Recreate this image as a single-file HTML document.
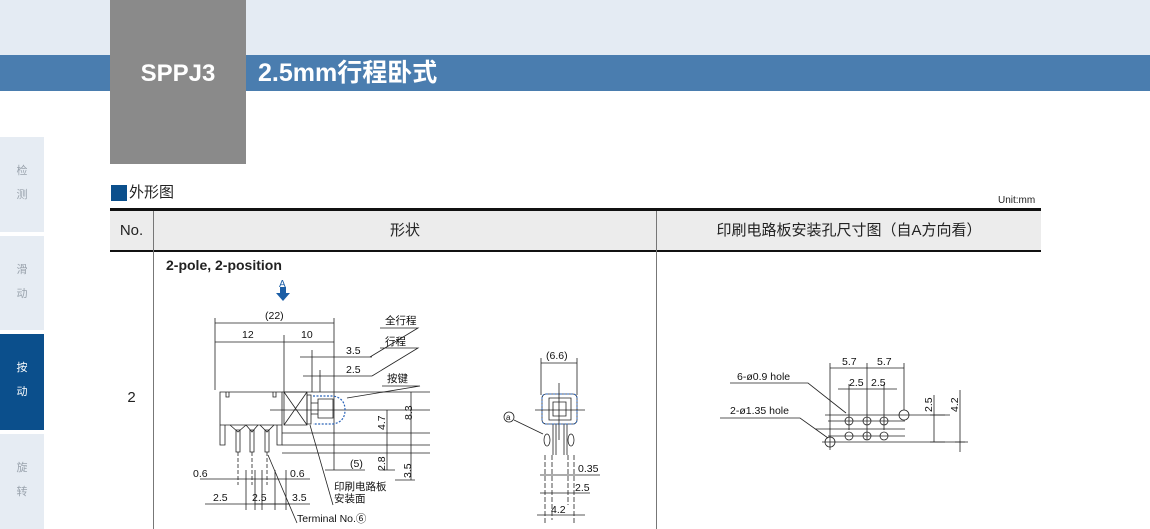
<!DOCTYPE html>
<html><head><meta charset="utf-8"><style>
*{margin:0;padding:0;box-sizing:border-box}
body{width:1150px;height:529px;position:relative;overflow:hidden;background:#fff;font-family:"Liberation Sans","Noto Sans CJK SC",sans-serif;color:#222}
.a{position:absolute}
.tab{position:absolute;left:0;width:44px;background:#e6ecf3;color:#9aa3ad;font-size:11px;text-align:center;line-height:24px;padding-top:22px}
</style></head><body>
<div class="a" style="left:0;top:0;width:1150px;height:55px;background:#e4ebf3"></div>
<div class="a" style="left:0;top:55px;width:1150px;height:36px;background:#4a7daf"></div>
<div class="a" style="left:110px;top:0;width:136px;height:164px;background:#8a8a8a"></div>
<div class="a" style="left:110px;top:58px;width:136px;text-align:center;color:#fff;font-weight:bold;font-size:24px;line-height:32px">SPPJ3</div>
<div class="a" style="left:258px;top:57px;color:#fff;font-size:25px;font-weight:bold;line-height:32px">2.5mm行程卧式</div>
<div class="tab" style="top:137px;height:95px">检<br>测</div>
<div class="tab" style="top:236px;height:94px">滑<br>动</div>
<div class="tab" style="top:334px;height:96px;background:#0b4f8c;color:#fff">按<br>动</div>
<div class="tab" style="top:434px;height:95px">旋<br>转</div>
<div class="a" style="left:111px;top:185px;width:16px;height:16px;background:#0b4f8c"></div>
<div class="a" style="left:129px;top:183px;font-size:15px;line-height:20px">外形图</div>
<div class="a" style="left:998px;top:195px;font-size:10px">Unit:mm</div>
<div class="a" style="left:110px;top:208px;width:931px;height:3px;background:#111"></div>
<div class="a" style="left:110px;top:211px;width:931px;height:39px;background:#ececec"></div>
<div class="a" style="left:110px;top:250px;width:931px;height:2px;background:#111"></div>
<div class="a" style="left:153px;top:211px;width:1px;height:318px;background:#777"></div>
<div class="a" style="left:656px;top:211px;width:1px;height:318px;background:#777"></div>
<div class="a" style="left:110px;top:221px;width:43px;text-align:center;font-size:15px;line-height:20px">No.</div>
<div class="a" style="left:154px;top:221px;width:502px;text-align:center;font-size:15px;line-height:20px">形状</div>
<div class="a" style="left:657px;top:221px;width:384px;text-align:center;font-size:15px;line-height:20px">印刷电路板安装孔尺寸图（自A方向看）</div>
<div class="a" style="left:110px;top:389px;width:43px;text-align:center;font-size:15px">2</div>
<div class="a" style="left:166px;top:257px;font-size:14px;font-weight:bold">2-pole, 2-position</div>
<svg class="a" style="left:0;top:0" width="1150" height="529" font-family="Liberation Sans,Noto Sans CJK SC,sans-serif" font-size="10.5" fill="#111">
<g stroke="#222" stroke-width="0.8" fill="none">
<path d="M215 318V390M284 335V392M334 318V470M215 323H334M215 342H334"/>
<path d="M300 357H372M303 376H372M312 350V392M320 370V392"/>
<path d="M380 328H418L370 357M380 348H418L372 376M382 386H420L347 398"/>
<path d="M220 392H282V425H220ZM220 392V445H225V425M282 392V445H277V425M226 392V397H229V392M273 392V397H276V392"/>
<path d="M230 425L238 432L246 425M246 425L252 432L258 425M260 425L267 432L274 425"/>
<path d="M236 430H240V452H236ZM250 430H254V452H250ZM265 430H269V452H265Z"/>
<path d="M238 452V485M252 452V485M267 452V485" stroke-dasharray="4 2"/>
<path d="M284 392H307V425H284ZM284 392L307 425M307 392L284 425"/>
<path d="M307 395H311V424H307ZM311 403H318V414H311ZM318 399H333V418H318Z"/>
<path d="M270 410H430M282 392H430M282 433H430M282 445H430M282 453H430" />
<path d="M411 392V453M387 410V470M411 453V480M395 480H415M380 470H395"/>
<path d="M325 470H365M310 425L333 505M268 455L297 523M255 504H290"/>
<path d="M200 479H310M205 504H310M246 470V510M255 470V510M262 470V510M275 470V510M286 470V510"/>
</g>
<path d="M313 396H333Q345 398 345 410Q345 422 333 424H313" stroke="#2a63b8" stroke-width="1.2" stroke-dasharray="2 1.5" fill="none"/>
<path d="M280 287h6v6h4l-7 8l-7-8h4z" fill="#1b5ea6"/>
<text x="279" y="287" fill="#1b5ea6" font-size="10">A</text>
<text x="265" y="319">(22)</text><text x="242" y="338">12</text><text x="301" y="338">10</text>
<text x="346" y="354">3.5</text><text x="346" y="373">2.5</text>
<text x="385" y="324">全行程</text><text x="385" y="345">行程</text><text x="387" y="382">按键</text>
<text transform="translate(412,420) rotate(-90)">8.3</text>
<text transform="translate(385,430) rotate(-90)">4.7</text>
<text transform="translate(385,471) rotate(-90)">2.8</text>
<text transform="translate(411,478) rotate(-90)">3.5</text>
<text x="350" y="467">(5)</text>
<text x="334" y="490">印刷电路板</text><text x="334" y="502">安装面</text>
<text x="193" y="477">0.6</text><text x="290" y="477">0.6</text>
<text x="213" y="501">2.5</text><text x="252" y="501">2.5</text><text x="292" y="501">3.5</text>
<text x="297" y="522">Terminal No.⑥</text>
<g stroke="#222" stroke-width="0.8" fill="none">
<path d="M541 363H577M541 358V395M577 358V395M559 383V440M535 410H585"/>
<rect x="542" y="394" width="35" height="30" rx="4"/>
<path d="M549 398H571V420H549ZM553 402H566V416H553Z"/>
<ellipse cx="547" cy="440" rx="3" ry="6"/><ellipse cx="571" cy="440" rx="3" ry="6"/>
<path d="M553 424V455M556 424V455M564 424V455M567 424V455"/>
<path d="M552 455V520M568 455V505M545 455V525M574 455V525" stroke-dasharray="5 2"/>
<circle cx="509" cy="417" r="5"/><path d="M514 420L543 434"/>
<path d="M540 475H600M540 493H590M537 515H585"/>
</g>
<rect x="542" y="394" width="35" height="30" rx="4" stroke="#2a63b8" stroke-dasharray="2 1.5" fill="none"/>
<text x="506" y="420" font-size="8">a</text>
<text x="546" y="359">(6.6)</text><text x="578" y="472">0.35</text><text x="575" y="491">2.5</text><text x="551" y="513">4.2</text>
<g stroke="#222" stroke-width="0.8" fill="none">
<path d="M830 368H904M830 363V450M867 363V440M904 363V410M838 389H897M849 384V430M884 384V430"/>
<path d="M825 415H950M828 421H905M815 429H905M828 436H905M822 442H965"/>
<path d="M730 383H808L846 413M720 418H800L828 438"/>
<path d="M934 395V442M960 390V452M930 415H945M930 442H945M955 442H968"/>
<circle cx="849" cy="421" r="4"/><circle cx="867" cy="421" r="4"/><circle cx="884" cy="421" r="4"/>
<circle cx="849" cy="436" r="4"/><circle cx="867" cy="436" r="4"/><circle cx="884" cy="436" r="4"/>
<circle cx="904" cy="415" r="5"/><circle cx="830" cy="442" r="5"/>
</g>
<text x="842" y="365">5.7</text><text x="877" y="365">5.7</text>
<text x="849" y="386">2.5</text><text x="871" y="386">2.5</text>
<text x="737" y="380">6-ø0.9 hole</text><text x="730" y="414">2-ø1.35 hole</text>
<text transform="translate(932,412) rotate(-90)">2.5</text>
<text transform="translate(958,412) rotate(-90)">4.2</text>
</svg>
</body></html>
